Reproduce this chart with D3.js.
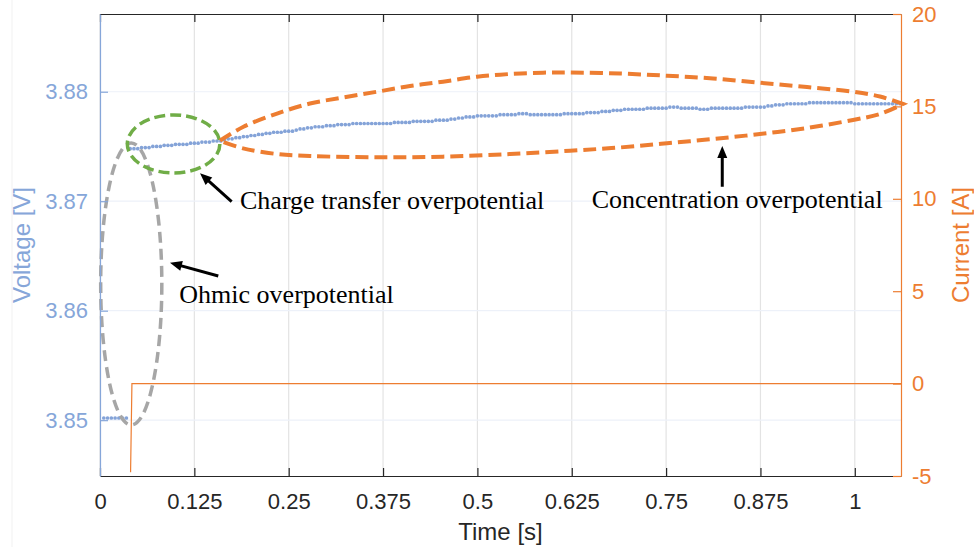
<!DOCTYPE html>
<html>
<head>
<meta charset="utf-8">
<script src="https://cdn.jsdelivr.net/npm/d3@7"></script>
<style>
  html, body { margin: 0; padding: 0; background: #fff; }
  svg { display: block; }
</style>
</head>
<body>
<svg id="chart" width="974" height="547"></svg>
<script>
// ---- Axis ticks ----
const timeTicks = [0, 0.125, 0.25, 0.375, 0.5, 0.625, 0.75, 0.875, 1];
const voltageTicks = [3.85, 3.86, 3.87, 3.88];
const currentTicks = [-5, 0, 5, 10, 15, 20];

// ---- Measured voltage (sampled every 5 ms starting at 5 ms) ----
const sampleStart = 0.005;
const samplePeriod = 0.005;
const voltage = [
  3.8502, 3.8502, 3.8502, 3.8502, 3.8502, 3.8502, 3.8502,
  3.8748, 3.8748, 3.8748, 3.8749, 3.8749, 3.8749, 3.8750,
  3.8750, 3.8750, 3.8751, 3.8751, 3.8751, 3.8752, 3.8752, 3.8752, 3.8752,
  3.8753, 3.8753, 3.8753, 3.8754, 3.8754, 3.8754, 3.8755, 3.8755,
  3.8755, 3.8756, 3.8757, 3.8757, 3.8758, 3.8758,
  3.8759, 3.8759, 3.8760, 3.8760, 3.8761, 3.8761, 3.8762, 3.8762, 3.8763,
  3.8763, 3.8763, 3.8764, 3.8764,
  3.8764, 3.8765, 3.8766, 3.8766, 3.8767,
  3.8767, 3.8768, 3.8768, 3.8768, 3.8769, 3.8769, 3.8769, 3.8770, 3.8770,
  3.8770, 3.8770, 3.8771, 3.8771, 3.8771, 3.8771,
  3.8771, 3.8771, 3.8771, 3.8771,
  3.8771, 3.8771, 3.8771, 3.8772, 3.8772, 3.8772, 3.8772, 3.8772,
  3.8773, 3.8773, 3.8773, 3.8773, 3.8773, 3.8773, 3.8774, 3.8774,
  3.8774, 3.8774, 3.8775, 3.8775, 3.8776, 3.8776,
  3.8777, 3.8777, 3.8777,
  3.8778, 3.8778, 3.8778, 3.8778, 3.8778, 3.8778, 3.8779, 3.8779, 3.8779,
  3.8779, 3.8779, 3.8780, 3.8780,
  3.8780, 3.8779, 3.8779, 3.8779, 3.8779,
  3.8779, 3.8779, 3.8779, 3.8779, 3.8779, 3.8780, 3.8780,
  3.8780, 3.8780, 3.8780, 3.8780, 3.8781, 3.8781,
  3.8781, 3.8781, 3.8782, 3.8782, 3.8782, 3.8783, 3.8783, 3.8783, 3.8784,
  3.8784, 3.8784, 3.8784, 3.8784, 3.8784, 3.8785, 3.8785, 3.8785, 3.8785,
  3.8785, 3.8785, 3.8786, 3.8786,
  3.8786, 3.8785, 3.8785, 3.8785, 3.8785, 3.8785, 3.8784,
  3.8784, 3.8784, 3.8785, 3.8785, 3.8785, 3.8785,
  3.8785, 3.8785, 3.8785, 3.8785, 3.8785, 3.8786, 3.8786, 3.8786, 3.8786,
  3.8786, 3.8786, 3.8787, 3.8787, 3.8788,
  3.8788, 3.8788, 3.8789, 3.8789,
  3.8789, 3.8789, 3.8789, 3.8789, 3.8790, 3.8790, 3.8790, 3.8790, 3.8790, 3.8790, 3.8790, 3.8790,
  3.8790, 3.8790, 3.8790, 3.8790, 3.8789, 3.8789,
  3.8789, 3.8789, 3.8789, 3.8789, 3.8789, 3.8789, 3.8789, 3.8789, 3.8789, 3.8789, 3.8789
];

// ---- Applied current step ----
const currentTime = [0.0405, 0.0423, 1.0612];
const currentAmps = [-4.8, 0, 0];

// ---- Annotation guides (time [s], voltage [V]) ----
const ohmicRegion = { t: 0.0414, v: 3.86244, rt: 0.0405, rv: 0.01288 };
const chargeRegion = { t: 0.0975, v: 3.87523, rt: 0.0613, rv: 0.00265 };
const concentrationUpper = [
  [0.159, 3.87553], [0.1895, 3.87678], [0.2345, 3.87801], [0.2782, 3.87892],
  [0.3219, 3.87947], [0.367, 3.88000], [0.4107, 3.88052], [0.4544, 3.88092],
  [0.4995, 3.88137], [0.5432, 3.88162], [0.5869, 3.88174], [0.6227, 3.88176],
  [0.6889, 3.88166], [0.7512, 3.88146], [0.8121, 3.88121], [0.8744, 3.88082],
  [0.9367, 3.88043], [0.9976, 3.88000], [1.0334, 3.87956], [1.0639, 3.87888]
];
const concentrationLower = [
  [0.159, 3.87553], [0.1895, 3.87483], [0.2345, 3.87431], [0.2782, 3.87413],
  [0.367, 3.87401], [0.4544, 3.87407], [0.5432, 3.87431], [0.6227, 3.87461],
  [0.6889, 3.87491], [0.7512, 3.87529], [0.8121, 3.87568], [0.8744, 3.87614],
  [0.9367, 3.87669], [0.9976, 3.87742], [1.0334, 3.87797], [1.0639, 3.87888]
];
const labels = [
  { text: "Charge transfer overpotential", t: 0.1855, v: 3.86926 },
  { text: "Concentration overpotential", t: 0.6514, v: 3.86935 },
  { text: "Ohmic overpotential", t: 0.1051, v: 3.86067 }
];
const arrows = [
  { from: [0.1744, 3.86996], to: [0.1325, 3.87255] },
  { from: [0.8244, 3.87132], to: [0.8244, 3.87504] },
  { from: [0.1567, 3.86317], to: [0.0927, 3.86438] }
];

// ---- Layout ----
const W = 974, H = 547;
const plot = { left: 100, right: 901, top: 14, bottom: 476 };

const blue = "#86a6d9";
const dotBlue = "#84a3d8";
const orange = "#ed7d31";
const axisDark = "#262626";

const x = d3.scaleLinear().domain([0, 1.0612]).range([plot.left, plot.right]);
const yV = d3.scaleLinear().domain([3.8449, 3.8871]).range([plot.bottom, plot.top]);
const yI = d3.scaleLinear().domain([-5, 20]).range([plot.bottom, plot.top]);

const svg = d3.select("#chart");
svg.append("rect").attr("width", W).attr("height", H).attr("fill", "#fff");

// faint figure edge
svg.append("line").attr("x1", 12).attr("x2", 12).attr("y1", 0).attr("y2", H)
  .attr("stroke", "#f1f1f1").attr("stroke-width", 1);

// ---- Grid ----
const grid = svg.append("g");
grid.selectAll("line.vx").data(timeTicks).join("line")
  .attr("x1", d => x(d)).attr("x2", d => x(d))
  .attr("y1", plot.top).attr("y2", plot.bottom)
  .attr("stroke", "#e3e3e3").attr("stroke-width", 1.2);
grid.selectAll("line.hy").data(voltageTicks).join("line")
  .attr("x1", plot.left).attr("x2", plot.right)
  .attr("y1", d => yV(d)).attr("y2", d => yV(d))
  .attr("stroke", "#edf1f9").attr("stroke-width", 1.2);

// ---- Current ----
svg.append("path")
  .datum(currentTime.map((t, i) => [t, currentAmps[i]]))
  .attr("fill", "none").attr("stroke", orange).attr("stroke-width", 1.2)
  .attr("d", d3.line().x(d => x(d[0])).y(d => yI(d[1])));

// ---- Voltage samples ----
svg.append("g").selectAll("circle").data(voltage).join("circle")
  .attr("cx", (d, i) => x(sampleStart + i * samplePeriod))
  .attr("cy", d => yV(d))
  .attr("r", 1.85)
  .attr("fill", dotBlue);

// ---- Annotations ----
const ann = svg.append("g");
function ellipse(e, color, dash) {
  ann.append("ellipse")
    .attr("cx", x(e.t)).attr("cy", yV(e.v))
    .attr("rx", x(e.t + e.rt) - x(e.t))
    .attr("ry", yV(e.v - e.rv) - yV(e.v))
    .attr("fill", "none").attr("stroke", color)
    .attr("stroke-width", 3.5).attr("stroke-dasharray", dash);
}
ellipse(ohmicRegion, "#a6a6a6", "11,6");
ellipse(chargeRegion, "#70ad47", "11,5");

const guideLine = d3.line().x(d => x(d[0])).y(d => yV(d[1])).curve(d3.curveCatmullRom.alpha(0.5));
ann.append("path")
  .attr("d", guideLine(concentrationUpper) + "L" + guideLine(concentrationLower.slice().reverse()).slice(1))
  .attr("fill", "none").attr("stroke", orange)
  .attr("stroke-width", 4).attr("stroke-dasharray", "13,6")
  .attr("stroke-linejoin", "miter");

// arrows
const headLen = 12, headHalf = 5;
arrows.forEach(a => {
  const x0 = x(a.from[0]), y0 = yV(a.from[1]);
  const x1 = x(a.to[0]), y1 = yV(a.to[1]);
  const dx = x1 - x0, dy = y1 - y0, len = Math.hypot(dx, dy);
  const ux = dx / len, uy = dy / len;
  const bx = x1 - ux * headLen, by = y1 - uy * headLen;
  ann.append("line")
    .attr("x1", x0).attr("y1", y0)
    .attr("x2", x1 - ux * (headLen - 2)).attr("y2", y1 - uy * (headLen - 2))
    .attr("stroke", "#000").attr("stroke-width", 3);
  ann.append("path")
    .attr("d", `M${x1},${y1}L${bx - uy * headHalf},${by + ux * headHalf}L${bx + uy * headHalf},${by - ux * headHalf}Z`)
    .attr("fill", "#000");
});

ann.selectAll("text").data(labels).join("text")
  .attr("x", d => x(d.t)).attr("y", d => yV(d.v))
  .attr("font-family", "'Liberation Serif', 'Times New Roman', serif")
  .attr("font-size", 26).attr("fill", "#000")
  .text(d => d.text);

// ---- Axes ----
const tickFont = "'Liberation Sans', Arial, Helvetica, sans-serif";

const xAxis = svg.append("g").attr("transform", `translate(0,${plot.bottom})`)
  .call(d3.axisBottom(x).tickValues(timeTicks).tickFormat(d3.format("~g")).tickSize(-8).tickSizeOuter(0));
xAxis.select(".domain").attr("stroke", axisDark).attr("stroke-width", 1.2);
xAxis.selectAll(".tick line").attr("stroke", axisDark).attr("stroke-width", 1.2);
xAxis.selectAll(".tick text").attr("y", 17).attr("dy", "0.71em")
  .attr("font-family", tickFont).attr("font-size", 22).attr("fill", "#262626");

const topAxis = svg.append("g").attr("transform", `translate(0,${plot.top})`)
  .call(d3.axisTop(x).tickValues(timeTicks).tickFormat("").tickSize(-8).tickSizeOuter(0));
topAxis.select(".domain").attr("stroke", axisDark).attr("stroke-width", 1.2);
topAxis.selectAll(".tick line").attr("stroke", axisDark).attr("stroke-width", 1.2);

const yAxisL = svg.append("g").attr("transform", `translate(${plot.left},0)`)
  .call(d3.axisLeft(yV).tickValues(voltageTicks).tickFormat(d3.format(".2f")).tickSize(-8).tickSizeOuter(0));
yAxisL.select(".domain").attr("stroke", blue).attr("stroke-width", 1.2);
yAxisL.selectAll(".tick line").attr("stroke", blue).attr("stroke-width", 1.2);
yAxisL.selectAll(".tick text").attr("x", -12)
  .attr("font-family", tickFont).attr("font-size", 22).attr("fill", blue);

const yAxisR = svg.append("g").attr("transform", `translate(${plot.right},0)`)
  .call(d3.axisRight(yI).tickValues(currentTicks).tickFormat(d => d < 0 ? "-" + Math.abs(d) : String(d)).tickSize(-8).tickSizeOuter(0));
yAxisR.select(".domain").attr("stroke", orange).attr("stroke-width", 1.2);
yAxisR.selectAll(".tick line").attr("stroke", orange).attr("stroke-width", 1.2);
yAxisR.selectAll(".tick text").attr("x", 11)
  .attr("font-family", tickFont).attr("font-size", 22).attr("fill", orange);

// axis titles
svg.append("text")
  .attr("x", (plot.left + plot.right) / 2).attr("y", 540)
  .attr("text-anchor", "middle")
  .attr("font-family", tickFont).attr("font-size", 24).attr("fill", "#262626")
  .text("Time [s]");
svg.append("text")
  .attr("transform", `translate(30,${(plot.top + plot.bottom) / 2}) rotate(-90)`)
  .attr("text-anchor", "middle")
  .attr("font-family", tickFont).attr("font-size", 24).attr("fill", blue)
  .text("Voltage [V]");
svg.append("text")
  .attr("transform", `translate(969,${(plot.top + plot.bottom) / 2}) rotate(-90)`)
  .attr("text-anchor", "middle")
  .attr("font-family", tickFont).attr("font-size", 24).attr("fill", orange)
  .text("Current [A]");
</script>
</body>
</html>
